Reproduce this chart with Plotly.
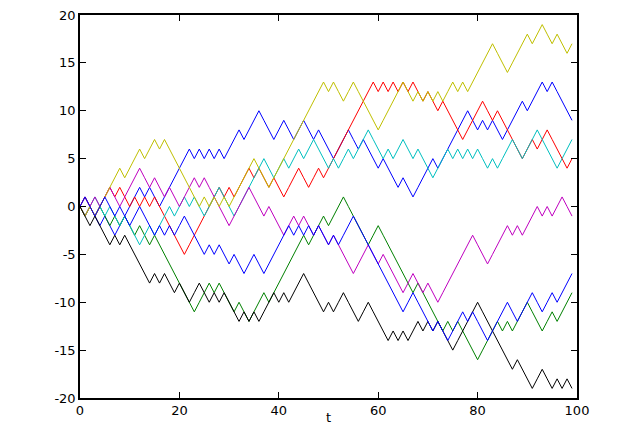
import plotly.graph_objects as go

t = list(range(100))

blue_a = [0,1,0,-1,-2,-1,-2,-3,-2,-1,
          0,1,2,1,2,1,0,1,2,3,
          4,5,6,5,6,5,6,5,6,5,
          6,7,8,7,8,9,10,9,8,7,
          8,9,8,7,8,9,8,7,8,7,
          6,5,6,7,8,7,6,7,6,5,
          4,5,4,3,2,3,2,1,2,3,
          4,5,4,5,6,7,8,9,10,9,
          8,9,8,9,8,7,8,9,10,11,
          10,11,12,13,12,13,12,11,10,9]

green = [0,-1,0,-1,0,-1,-2,-1,-2,-1,
         -2,-3,-2,-3,-4,-3,-4,-5,-6,-7,
         -8,-9,-10,-11,-10,-9,-8,-9,-8,-9,
         -10,-11,-10,-11,-12,-11,-10,-9,-10,-9,
         -8,-7,-6,-5,-4,-3,-4,-3,-2,-1,
         -2,-1,0,1,0,-1,-2,-3,-4,-3,
         -2,-3,-4,-5,-6,-7,-8,-9,-8,-9,
         -10,-11,-12,-13,-12,-13,-12,-13,-14,-15,
         -16,-15,-14,-13,-12,-13,-12,-13,-12,-11,
         -10,-11,-12,-13,-12,-11,-12,-11,-10,-9]

red = [0,1,0,-1,0,1,2,1,2,1,
       0,1,0,1,0,1,0,-1,-2,-3,
       -4,-5,-4,-3,-2,-1,0,1,2,1,
       2,1,2,3,4,3,4,3,2,3,
       2,1,2,3,4,3,2,3,4,3,
       4,5,6,7,8,9,10,11,12,13,
       12,13,12,13,12,13,12,13,12,11,
       12,11,10,11,10,9,8,7,8,9,
       10,11,10,9,10,9,8,7,6,5,
       6,7,6,7,8,7,6,5,4,5]

cyan = [0,-1,0,1,0,-1,0,-1,-2,-1,
        -2,-3,-4,-3,-2,-3,-2,-1,0,-1,
        0,1,0,1,0,-1,0,1,2,1,
        0,-1,0,1,2,3,4,5,4,3,
        4,5,4,5,6,5,6,7,6,5,
        4,5,4,5,6,5,6,7,8,7,
        6,5,6,5,6,7,6,5,6,5,
        4,3,4,5,6,5,6,5,6,5,
        6,5,4,5,4,5,6,7,6,5,
        6,7,8,7,6,5,4,5,6,7]

magenta = [0,-1,0,1,0,1,2,1,0,1,
           2,3,4,3,2,3,2,1,2,1,
           0,1,2,3,2,3,2,1,0,-1,
           -2,-1,0,1,2,1,0,-1,0,-1,
           -2,-3,-2,-1,-2,-1,-2,-3,-2,-3,
           -4,-3,-4,-5,-6,-7,-6,-5,-4,-5,
           -6,-5,-6,-7,-8,-9,-8,-7,-8,-9,
           -8,-9,-10,-9,-8,-7,-6,-5,-4,-3,
           -4,-5,-6,-5,-4,-3,-2,-3,-2,-3,
           -2,-1,0,-1,0,-1,0,1,0,-1]

yellow = [0,-1,0,-1,0,1,2,3,4,3,
          4,5,6,5,6,7,6,7,6,5,
          4,3,2,1,0,1,0,1,0,1,
          0,1,2,3,4,5,4,3,2,3,
          4,5,6,7,8,9,10,11,12,13,
          12,13,12,11,12,13,12,11,10,9,
          8,9,10,11,12,13,12,11,12,11,
          12,11,12,11,12,13,12,13,12,13,
          14,15,16,17,16,15,14,15,16,17,
          18,17,18,19,18,17,18,17,16,17]

black = [0,-1,-2,-1,-2,-3,-4,-3,-4,-3,
         -4,-5,-6,-7,-8,-7,-8,-7,-8,-9,
         -8,-9,-10,-9,-8,-9,-10,-9,-10,-9,
         -10,-11,-12,-11,-12,-11,-12,-11,-10,-9,
         -10,-9,-10,-9,-8,-7,-8,-9,-10,-11,
         -10,-11,-10,-9,-10,-11,-12,-11,-10,-11,
         -12,-13,-14,-13,-14,-13,-14,-13,-12,-13,
         -12,-13,-12,-13,-14,-15,-14,-13,-12,-11,
         -10,-11,-12,-13,-14,-15,-16,-17,-16,-17,
         -18,-19,-18,-17,-18,-19,-18,-19,-18,-19]

blue_b = [0,1,0,-1,0,1,0,-1,0,-1,
          -2,-1,0,-1,-2,-3,-2,-3,-2,-3,
          -2,-1,-2,-3,-4,-5,-4,-5,-4,-5,
          -6,-5,-6,-7,-6,-5,-6,-7,-6,-5,
          -4,-3,-2,-3,-2,-3,-2,-3,-2,-3,
          -4,-3,-4,-3,-2,-1,-2,-3,-4,-5,
          -6,-7,-8,-9,-10,-11,-10,-9,-10,-11,
          -12,-13,-12,-13,-14,-13,-12,-11,-12,-11,
          -12,-13,-14,-13,-12,-11,-10,-11,-12,-11,
          -10,-9,-10,-11,-10,-9,-10,-9,-8,-7]

series = [blue_a, green, red, cyan, magenta, yellow, black, blue_b]
colors = ["#0000ff", "#008000", "#ff0000", "#00bfbf", "#bf00bf", "#bfbf00", "#000000", "#0000ff"]

x_ticks = [0, 20, 40, 60, 80, 100]
y_ticks = [-20, -15, -10, -5, 0, 5, 10, 15, 20]

fig = go.Figure()
for s, c in zip(series, colors):
    fig.add_trace(go.Scatter(x=t, y=s, mode="lines", line=dict(color=c, width=1),
                             showlegend=False, hoverinfo="skip"))

axis_common = dict(showline=True, linecolor="#000000", linewidth=1.5, mirror="allticks",
                   ticks="inside", ticklen=6, tickwidth=1.2, tickcolor="#000000",
                   showgrid=False, zeroline=False, layer="above traces",
                   ticklabeloverflow="allow",
                   tickfont=dict(family="DejaVu Sans", size=13, color="black"))

fig.update_xaxes(range=[0, 100], tickvals=x_ticks, ticktext=[str(v) for v in x_ticks],
                 title=dict(text="t", font=dict(family="DejaVu Sans", size=13, color="black"), standoff=7),
                 automargin=False, **axis_common)
fig.update_yaxes(range=[-20, 20], tickvals=y_ticks, ticktext=[str(v) for v in y_ticks],
                 automargin=False, **axis_common)

fig.update_layout(width=632, height=417, margin=dict(l=72, r=63, t=7, b=27),
                  paper_bgcolor="white", plot_bgcolor="white", template="none")

fig.write_html("out.html")
